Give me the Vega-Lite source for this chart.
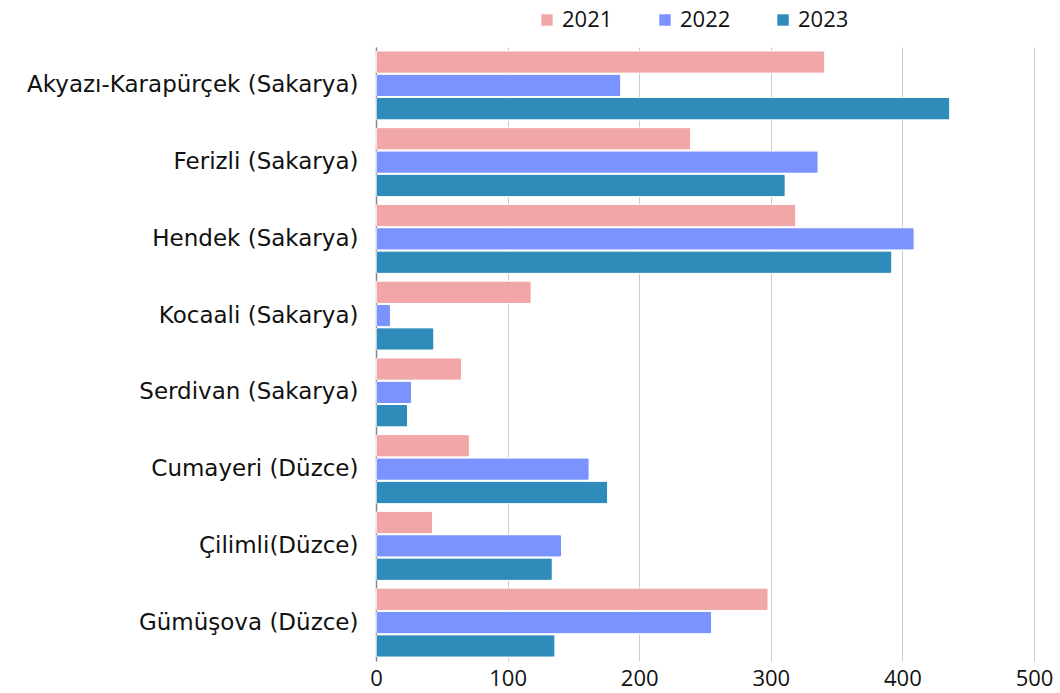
{
  "$schema": "https://vega.github.io/schema/vega-lite/v6.json",
  "width": 658,
  "height": 614,
  "autosize": {"type": "none"},
  "padding": {"left": 376, "top": 47, "right": 26, "bottom": 32},
  "background": "white",
  "config": {
    "font": "Open Sans",
    "view": {"stroke": null}
  },
  "data": {
    "values": [
      {"ilce": "Akyazı-Karapürçek (Sakarya)", "yil": "2021", "deger": 341},
      {"ilce": "Akyazı-Karapürçek (Sakarya)", "yil": "2022", "deger": 186},
      {"ilce": "Akyazı-Karapürçek (Sakarya)", "yil": "2023", "deger": 436},
      {"ilce": "Ferizli (Sakarya)", "yil": "2021", "deger": 239},
      {"ilce": "Ferizli (Sakarya)", "yil": "2022", "deger": 336},
      {"ilce": "Ferizli (Sakarya)", "yil": "2023", "deger": 311},
      {"ilce": "Hendek (Sakarya)", "yil": "2021", "deger": 319},
      {"ilce": "Hendek (Sakarya)", "yil": "2022", "deger": 409},
      {"ilce": "Hendek (Sakarya)", "yil": "2023", "deger": 392},
      {"ilce": "Kocaali (Sakarya)", "yil": "2021", "deger": 118},
      {"ilce": "Kocaali (Sakarya)", "yil": "2022", "deger": 11},
      {"ilce": "Kocaali (Sakarya)", "yil": "2023", "deger": 44},
      {"ilce": "Serdivan (Sakarya)", "yil": "2021", "deger": 65},
      {"ilce": "Serdivan (Sakarya)", "yil": "2022", "deger": 27},
      {"ilce": "Serdivan (Sakarya)", "yil": "2023", "deger": 24},
      {"ilce": "Cumayeri (Düzce)", "yil": "2021", "deger": 71},
      {"ilce": "Cumayeri (Düzce)", "yil": "2022", "deger": 162},
      {"ilce": "Cumayeri (Düzce)", "yil": "2023", "deger": 176},
      {"ilce": "Çilimli(Düzce)", "yil": "2021", "deger": 43},
      {"ilce": "Çilimli(Düzce)", "yil": "2022", "deger": 141},
      {"ilce": "Çilimli(Düzce)", "yil": "2023", "deger": 134},
      {"ilce": "Gümüşova (Düzce)", "yil": "2021", "deger": 298},
      {"ilce": "Gümüşova (Düzce)", "yil": "2022", "deger": 255},
      {"ilce": "Gümüşova (Düzce)", "yil": "2023", "deger": 136}
    ]
  },
  "mark": {"type": "bar", "cornerRadius": 2, "stroke": "white", "strokeWidth": 0.8},
  "encoding": {
    "y": {
      "field": "ilce",
      "type": "nominal",
      "sort": null,
      "scale": {"paddingInner": 0.1, "paddingOuter": 0.05},
      "axis": {
        "title": null,
        "ticks": false,
        "domain": true,
        "domainColor": "#888888",
        "domainWidth": 1.5,
        "labelFont": "DejaVu Sans",
        "labelFontSize": 23,
        "labelColor": "#111111",
        "labelPadding": 18,
        "labelLimit": 400
      }
    },
    "yOffset": {"field": "yil", "type": "nominal", "scale": {"paddingInner": 0.04}},
    "x": {
      "field": "deger",
      "type": "quantitative",
      "scale": {"domain": [0, 500], "nice": false},
      "axis": {
        "title": null,
        "values": [0, 100, 200, 300, 400, 500],
        "domain": false,
        "ticks": false,
        "grid": true,
        "gridColor": "#cccccc",
        "gridWidth": 1,
        "labelFontSize": 22,
        "labelColor": "#111111",
        "labelPadding": 7,
        "labelFlush": false
      }
    },
    "color": {
      "field": "yil",
      "type": "nominal",
      "scale": {"domain": ["2021", "2022", "2023"], "range": ["#F1A7A7", "#7B93FF", "#2E8BBA"]},
      "legend": {
        "title": null,
        "orient": "none",
        "direction": "horizontal",
        "legendX": 160,
        "legendY": -38,
        "symbolType": "square",
        "symbolSize": 130,
        "symbolStrokeWidth": 0,
        "labelFontSize": 22,
        "labelColor": "#111111",
        "labelOffset": 4,
        "columnPadding": 41
      }
    }
  }
}
